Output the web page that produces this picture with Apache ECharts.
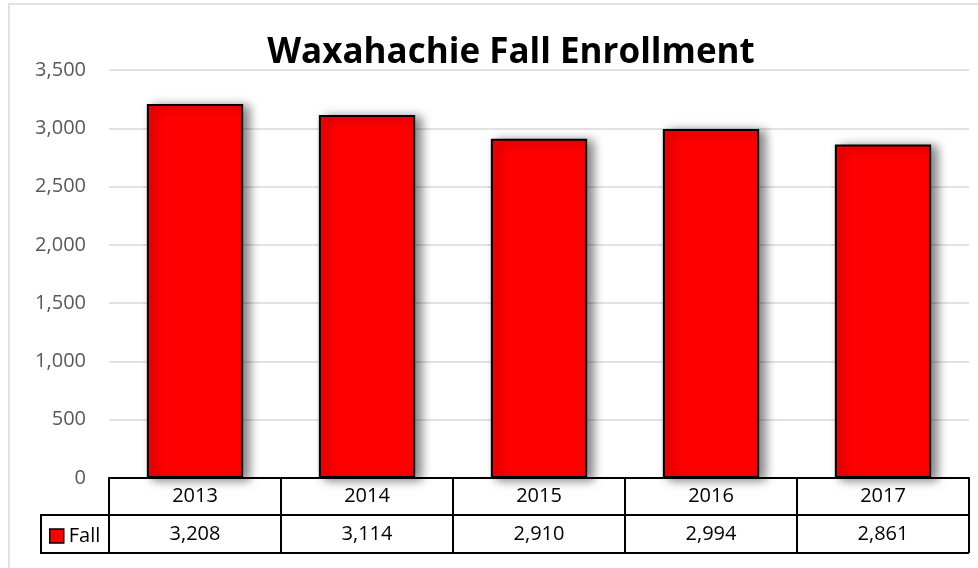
<!DOCTYPE html>
<html>
<head>
<meta charset="utf-8">
<script src="https://cdn.jsdelivr.net/npm/echarts@6/dist/echarts.min.js"></script>
<style>
  html, body { margin: 0; padding: 0; background: #fff; }
  #chart { width: 978px; height: 568px; }
</style>
</head>
<body>
<div id="chart"></div>
<script>
var years = ['2013', '2014', '2015', '2016', '2017']
var fall = [3208, 3114, 2910, 2994, 2861]
var yTicks = [0, 500, 1000, 1500, 2000, 2500, 3000, 3500]

var font = 'Open Sans'
function fmt(v) {
  return String(v).replace(/\B(?=(\d{3})+(?!\d))/g, ',')
}

var chart = echarts.init(document.getElementById('chart'))
var option = {
  animation: false,
  backgroundColor: '#fff',
  title: {
    text: 'Waxahachie Fall Enrollment',
    left: 506,
    textAlign: 'center',
    top: 31,
    textStyle: { fontFamily: font, fontSize: 35, fontWeight: 'bold', color: '#000' }
  },
  legend: {
    left: 49,
    top: 526,
    padding: 0,
    itemWidth: 14,
    itemHeight: 14,
    itemGap: 4,
    textStyle: { fontFamily: font, fontSize: 20, color: '#000' },
    data: [{ name: 'Fall', icon: 'rect', itemStyle: { color: '#ff0000', borderColor: '#000', borderWidth: 1.5 } }]
  },
  grid: { left: 109, right: 9, top: 70, bottom: 90 },
  xAxis: {
    type: 'category',
    data: years,
    axisLine: { lineStyle: { color: '#000', width: 2 } },
    axisTick: { show: true, length: 75, lineStyle: { color: '#000', width: 2 } },
    axisLabel: {
      margin: 0,
      interval: 0,
      formatter: function (val, i) {
        return '{y|' + val + '}\n{v|' + fmt(fall[i]) + '}'
      },
      rich: {
        y: { fontFamily: font, fontSize: 20, color: '#000', lineHeight: 37 },
        v: { fontFamily: font, fontSize: 20, color: '#000', lineHeight: 38 }
      }
    }
  },
  yAxis: {
    type: 'value',
    min: yTicks[0],
    max: yTicks[yTicks.length - 1],
    interval: 500,
    axisLine: { show: false },
    axisTick: { show: false },
    splitLine: { lineStyle: { color: '#d9d9d9', width: 1.5 } },
    axisLabel: {
      margin: 23,
      fontFamily: font,
      fontSize: 20,
      color: '#595959',
      formatter: function (v) { return fmt(v) }
    }
  },
  series: [{
    name: 'Fall',
    type: 'bar',
    data: fall,
    barCategoryGap: '44%',
    itemStyle: {
      color: '#ff0000',
      borderColor: '#000',
      borderWidth: 2,
      shadowColor: 'rgba(0,0,0,0.5)',
      shadowBlur: 10,
      shadowOffsetX: 6,
      shadowOffsetY: 2
    }
  }],
  graphic: [
    { type: 'rect', shape: { x: 9, y: 4, width: 1000, height: 600 }, style: { fill: 'none', stroke: '#d9d9d9', lineWidth: 1.5 }, z: -1 },
    { type: 'line', shape: { x1: 41, y1: 515, x2: 969, y2: 515 }, style: { stroke: '#000', lineWidth: 2 } },
    { type: 'line', shape: { x1: 41, y1: 553, x2: 969, y2: 553 }, style: { stroke: '#000', lineWidth: 2 } },
    { type: 'line', shape: { x1: 41, y1: 514, x2: 41, y2: 554 }, style: { stroke: '#000', lineWidth: 2 } }
  ]
}
chart.setOption(option)
</script>
</body>
</html>
